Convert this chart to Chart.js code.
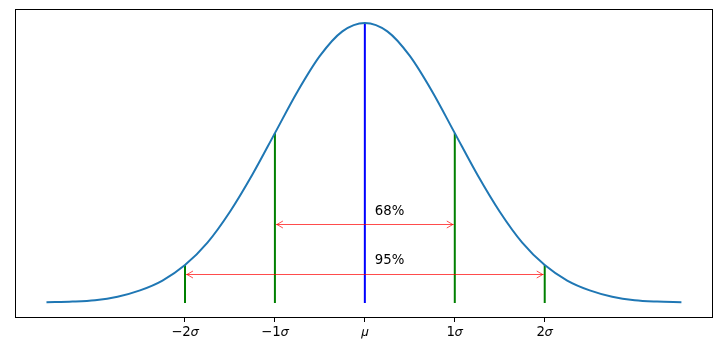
<!DOCTYPE html>
<html>
<head>
<meta charset="utf-8">
<script src="https://cdn.jsdelivr.net/npm/chart.js@4.4.1/dist/chart.umd.min.js"></script>
<style>
  body { margin: 0; background: #fff; }
  #wrap { width: 722px; height: 352px; }
</style>
</head>
<body>
<div id="wrap"><canvas id="c"></canvas></div>
<script>
// curve samples (x in sigma units, density)
const curveX = [-3.54, -3.25, -3.0, -2.75, -2.5, -2.25, -2.0, -1.75, -1.5, -1.25, -1.0, -0.75, -0.5, -0.25, 0,
                0.25, 0.5, 0.75, 1.0, 1.25, 1.5, 1.75, 2.0, 2.25, 2.5, 2.75, 3.0, 3.25, 3.52];
const curveY = [0.001, 0.002, 0.004, 0.009, 0.018, 0.032, 0.054, 0.086, 0.130, 0.183, 0.242, 0.301, 0.352, 0.387, 0.399,
                0.387, 0.352, 0.301, 0.242, 0.183, 0.130, 0.086, 0.054, 0.032, 0.018, 0.009, 0.004, 0.002, 0.001];

// vertical markers
const sigmaX = [-2, -1, 1, 2];
const sigmaY = [0.054, 0.242, 0.242, 0.054];
const meanX = 0;
const meanY = 0.399;

// tick labels
const tickVals = [-2, -1, 0, 1, 2];
const tickLabels = ['\u22122\uD835\uDF0E', '\u22121\uD835\uDF0E', '\uD835\uDF07', '1\uD835\uDF0E', '2\uD835\uDF0E'];

// arrows and their labels
const arrowFrom = [-1, -2];
const arrowTo = [1, 2];
const arrowY = [0.112, 0.042];
const arrowText = ['68%', '95%'];
const textX = [0.11, 0.11];
const textY = [0.125, 0.056];

const FONT = "'DejaVu Sans', sans-serif";

var datasets = [];
datasets.push({
    data: curveX.map((x, i) => ({ x: x, y: curveY[i] })),
    borderColor: '#1f77b4',
    borderWidth: 2,
    pointRadius: 0,
    showLine: true,
    cubicInterpolationMode: 'monotone'
});
sigmaX.forEach(function (x, i) {
    datasets.push({
        data: [{ x: x, y: 0 }, { x: x, y: sigmaY[i] }],
        borderColor: '#008000',
        borderWidth: 2,
        pointRadius: 0,
        showLine: true
    });
});
datasets.push({
    data: [{ x: meanX, y: 0 }, { x: meanX, y: meanY }],
    borderColor: '#0000ff',
    borderWidth: 2,
    pointRadius: 0,
    showLine: true
});

// box around the plot area
const framePlugin = {
    id: 'frame',
    afterDraw(chart) {
        const a = chart.chartArea, ctx = chart.ctx;
        ctx.save();
        ctx.strokeStyle = '#000';
        ctx.lineWidth = 1;
        ctx.strokeRect(Math.round(a.left) + 0.5, Math.round(a.top) + 0.5,
            Math.round(a.right - a.left), Math.round(a.bottom - a.top));
        ctx.restore();
    }
};

// double headed arrows + percentage labels
const arrowPlugin = {
    id: 'arrows',
    afterDatasetsDraw(chart) {
        const ctx = chart.ctx, xs = chart.scales.x, ys = chart.scales.y;
        ctx.save();
        arrowFrom.forEach(function (x0, i) {
            const px0 = xs.getPixelForValue(x0), px1 = xs.getPixelForValue(arrowTo[i]);
            const py = Math.round(ys.getPixelForValue(arrowY[i])) + 0.5;
            ctx.strokeStyle = 'rgba(255,0,0,0.7)';
            ctx.lineWidth = 1;
            ctx.beginPath();
            ctx.moveTo(px0 + 1, py);
            ctx.lineTo(px1 - 1, py);
            ctx.stroke();
            ctx.beginPath();
            ctx.moveTo(px0 + 8, py - 3.5);
            ctx.lineTo(px0 + 2, py);
            ctx.lineTo(px0 + 8, py + 3.5);
            ctx.moveTo(px1 - 8, py - 3.5);
            ctx.lineTo(px1 - 2, py);
            ctx.lineTo(px1 - 8, py + 3.5);
            ctx.stroke();

            ctx.fillStyle = '#000';
            ctx.font = '13.3px ' + FONT;
            ctx.textAlign = 'left';
            ctx.textBaseline = 'alphabetic';
            ctx.fillText(arrowText[i], xs.getPixelForValue(textX[i]), ys.getPixelForValue(textY[i]));
        });
        ctx.restore();
    }
};

new Chart(document.getElementById('c').getContext('2d'), {
    type: 'scatter',
    data: { datasets: datasets },
    options: {
        responsive: true,
        maintainAspectRatio: false,
        animation: false,
        layout: { padding: { left: 15, right: 10, top: 9, bottom: 0 } },
        plugins: { legend: { display: false }, tooltip: { enabled: false } },
        scales: {
            x: {
                type: 'linear',
                min: -3.89,
                max: 3.86,
                afterBuildTicks: function (scale) {
                    scale.ticks = tickVals.map(v => ({ value: v }));
                },
                afterFit: function (scale) { scale.height = 35; },
                ticks: {
                    autoSkip: false,
                    maxRotation: 0,
                    padding: 3,
                    color: '#000',
                    font: { family: FONT, size: 13.3 },
                    callback: function (v) {
                        const i = tickVals.indexOf(v);
                        return i >= 0 ? tickLabels[i] : '';
                    }
                },
                grid: { display: true, drawOnChartArea: false, drawTicks: true, tickLength: 5, color: '#000', lineWidth: 1 },
                border: { display: true, color: '#000', width: 1 }
            },
            y: {
                display: false,
                min: -0.01995,
                max: 0.41884
            }
        }
    },
    plugins: [framePlugin, arrowPlugin]
});
</script>
</body>
</html>
